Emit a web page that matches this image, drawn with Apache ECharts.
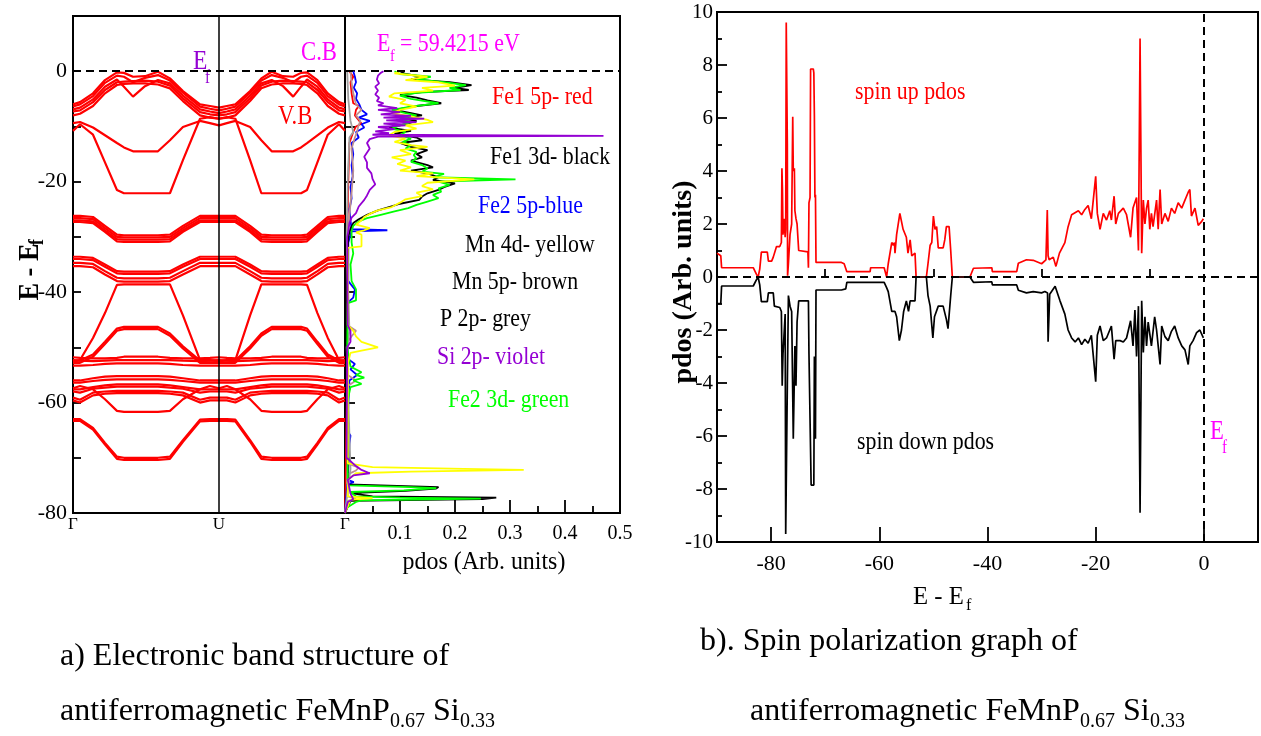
<!DOCTYPE html>
<html>
<head>
	<meta charset="utf-8" />
	<title>FeMnP0.67Si0.33 band structure / spin pdos</title>
	<script src="https://cdn.jsdelivr.net/npm/echarts@6/dist/echarts.min.js"></script>
	<style>
		html, body { margin: 0; padding: 0; background: #fff; }
		#main { width: 1261px; height: 736px; }
	</style>
</head>
<body>
<div id="main"></div>
<script type="text/javascript">
	/******************* band structure data ******************/
	// k path  Γ -> U  and back  U -> Γ  (drawn shorter)
	var kGU = [0, 0.048, 0.137, 0.219, 0.301, 0.349, 0.411, 0.493, 0.582, 0.664, 0.753, 0.870, 0.938, 1.0];
	var kUG = [1.0, 1.054, 1.112, 1.213, 1.290, 1.361, 1.438, 1.508, 1.562, 1.603, 1.674, 1.745, 1.822, 1.863];
	var kTicks = [0, 1, 1.863];
	var kNames = ['Γ', 'U', 'Γ'];

	// energies (E - Ef) at the k nodes of Γ -> U
	var bandsTop = [
		[-6.0, -5.6, -4.0, -1.6, -0.2, -0.3, -1.0, -0.9, -0.1, -1.3, -3.6, -6.0, -6.3, -6.6],
		[-6.4, -6.0, -4.5, -2.1, -0.8, -1.0, -2.0, -1.2, -0.7, -1.7, -3.9, -6.4, -6.8, -7.1],
		[-6.9, -6.6, -5.1, -2.8, -1.5, -2.8, -4.6, -2.7, -1.6, -2.2, -4.4, -6.9, -7.3, -7.6],
		[-7.3, -7.1, -5.6, -3.4, -2.0, -1.9, -1.8, -1.7, -1.9, -2.6, -4.9, -7.4, -7.8, -8.0],
		[-8.0, -7.7, -6.3, -4.0, -2.5, -2.3, -2.2, -2.2, -2.4, -3.1, -5.4, -8.0, -8.4, -8.6]
	];
	var bandsDip = [
		[-9.4, -9.2, -10.2, -11.6, -13.0, -13.8, -14.5, -14.5, -14.5, -12.5, -10.1, -9.0, -9.4, -9.8],
		[-10.8, -9.6, -11.5, -16.5, -21.5, -22.1, -22.1, -22.1, -22.1, -22.1, -16.1, -8.6, -8.3, -8.6]
	];
	var bandsC = [
		[-26.2, -26.2, -26.4, -28.0, -29.6, -29.7, -29.7, -29.7, -29.7, -29.6, -28.0, -26.2, -26.2, -26.2],
		[-26.6, -26.6, -26.8, -28.4, -30.0, -30.1, -30.1, -30.1, -30.1, -30.0, -28.4, -26.6, -26.6, -26.6],
		[-27.0, -27.0, -27.2, -28.8, -30.4, -30.5, -30.5, -30.5, -30.5, -30.4, -28.8, -27.0, -27.0, -27.0],
		[-27.3, -27.3, -27.5, -29.1, -30.8, -30.9, -30.9, -30.9, -30.9, -30.8, -29.1, -27.3, -27.3, -27.3]
	];
	var bandsD = [
		[-33.6, -33.6, -33.8, -35.0, -36.2, -36.3, -36.3, -36.3, -36.3, -36.2, -35.0, -33.6, -33.6, -33.6],
		[-34.0, -34.0, -34.2, -35.4, -36.6, -36.7, -36.7, -36.7, -36.7, -36.6, -35.4, -34.0, -34.0, -34.0],
		[-34.7, -34.7, -34.9, -36.2, -37.4, -37.5, -37.5, -37.5, -37.5, -37.4, -36.2, -34.7, -34.7, -34.7],
		[-35.3, -35.3, -35.5, -36.8, -38.0, -38.1, -38.1, -38.1, -38.1, -38.0, -36.8, -35.3, -35.3, -35.3]
	];
	var bandsMid = [
		[-52.6, -52.3, -48.3, -43.8, -38.7, -38.6, -38.6, -38.6, -38.6, -38.6, -44.2, -52.3, -52.3, -52.6],
		[-52.4, -52.4, -51.3, -49.0, -46.6, -46.3, -46.3, -46.3, -46.3, -47.5, -49.8, -52.4, -52.4, -52.4],
		[-52.8, -52.8, -51.7, -49.4, -47.0, -46.7, -46.7, -46.7, -46.7, -47.9, -50.2, -52.8, -52.8, -52.8],
		[-51.8, -51.9, -52.0, -52.0, -51.9, -51.7, -51.7, -51.7, -51.7, -51.9, -52.0, -52.0, -51.9, -51.8],
		[-52.3, -52.4, -52.5, -52.4, -52.3, -52.3, -52.3, -52.3, -52.3, -52.3, -52.4, -52.5, -52.4, -52.3],
		[-53.3, -53.3, -53.2, -53.0, -52.9, -52.9, -52.9, -52.9, -52.9, -53.0, -53.2, -53.3, -53.3, -53.3]
	];
	var bandsLow = [
		[-56.0, -56.0, -55.6, -55.3, -55.2, -55.2, -55.2, -55.2, -55.2, -55.3, -55.6, -56.0, -56.0, -56.0],
		[-56.4, -56.4, -56.1, -55.9, -55.8, -55.8, -55.8, -55.8, -55.8, -55.9, -56.1, -56.4, -56.4, -56.4],
		[-57.6, -57.6, -57.2, -56.9, -56.7, -56.7, -56.7, -56.7, -56.7, -56.9, -57.2, -57.6, -57.6, -57.6],
		[-58.0, -58.2, -57.5, -57.3, -57.1, -57.1, -57.1, -57.1, -57.1, -57.3, -57.5, -58.2, -58.0, -58.0],
		[-59.1, -59.5, -58.2, -58.0, -57.9, -57.9, -57.9, -57.9, -57.9, -58.0, -58.2, -59.5, -59.1, -59.1],
		[-59.6, -60.0, -58.7, -58.4, -58.3, -58.3, -58.3, -58.3, -58.3, -58.4, -58.7, -60.0, -59.6, -59.6],
		[-57.4, -57.0, -57.6, -59.4, -61.5, -61.7, -61.7, -61.7, -61.7, -61.5, -59.4, -57.6, -57.0, -57.4],
		[-63.0, -63.0, -64.6, -67.3, -69.8, -70.0, -70.0, -70.0, -70.0, -69.8, -66.8, -63.1, -63.0, -63.0],
		[-63.3, -63.3, -64.9, -67.6, -70.2, -70.4, -70.4, -70.4, -70.4, -70.2, -67.1, -63.4, -63.3, -63.3]
	];

	/******************* pdos data  [E - Ef, pdos] ******************/
	var pdosFe15p = [[0, 0.008], [-1, 0.015], [-2, 0.01], [-4, 0.012], [-5.8, 0.015], [-6.3, 0.025], [-7, 0.02], [-8, 0.018], [-9.5, 0.03], [-10, 0.02], [-11, 0.015], [-13, 0.008], [-20, 0.006], [-30, 0.004], [-56, 0.004], [-80, 0]];
	var pdosFe25p = [[0, 0.015], [-1, 0.018], [-2, 0.02], [-3, 0.016], [-4, 0.022], [-5, 0.02], [-6, 0.026], [-7, 0.03], [-7.8, 0.04], [-8.4, 0.025], [-9, 0.045], [-9.6, 0.03], [-10.2, 0.035], [-11, 0.02], [-12, 0.025], [-13, 0.012], [-15, 0.015], [-17, 0.012], [-19, 0.014], [-21, 0.01], [-23, 0.012], [-25, 0.008], [-27, 0.01], [-28.6, 0.012], [-28.8, 0.077], [-29.0, 0.012], [-31, 0.006], [-38, 0.006], [-39.5, 0.018], [-41, 0.015], [-42, 0.004], [-52, 0.004], [-53, 0.018], [-54, 0.01], [-55, 0.022], [-56, 0.008], [-65, 0.004], [-66, 0.01], [-67.5, 0.008], [-74, 0.005], [-74.4, 0.016], [-74.8, 0.004], [-80, 0]];
	var pdosMn5p = [[0, 0.01], [-2, 0.012], [-4, 0.015], [-6, 0.02], [-7, 0.03], [-8, 0.02], [-9, 0.028], [-10, 0.024], [-11, 0.022], [-12, 0.018], [-14, 0.012], [-18, 0.015], [-22, 0.012], [-26, 0.008], [-30, 0.005], [-46, 0.005], [-47, 0.02], [-48, 0.012], [-49, 0.005], [-55, 0.005], [-56, 0.02], [-57, 0.005], [-71, 0.005], [-71.8, 0.025], [-72.3, 0.02], [-73, 0.005], [-77, 0.005], [-77.4, 0.02], [-77.8, 0.005], [-80, 0]];
	var pdosP2p = [[0, 0.004], [-5, 0.006], [-9, 0.01], [-11, 0.015], [-12, 0.008], [-20, 0.005], [-30, 0.003], [-47, 0.008], [-50, 0.003], [-72, 0.01], [-80, 0]];
	var pdosFe13d = [[0, 0.1], [-0.5, 0.11], [-1, 0.14], [-1.5, 0.12], [-2, 0.19], [-2.5, 0.23], [-3, 0.2], [-3.4, 0.225], [-3.8, 0.14], [-4.3, 0.1], [-4.8, 0.13], [-5.3, 0.15], [-5.8, 0.175], [-6.3, 0.13], [-7, 0.09], [-7.6, 0.12], [-8, 0.14], [-8.5, 0.1], [-9, 0.13], [-9.6, 0.11], [-10.2, 0.08], [-10.8, 0.12], [-11.3, 0.09], [-12, 0.13], [-12.5, 0.14], [-13, 0.1], [-13.7, 0.12], [-14.3, 0.15], [-15, 0.13], [-15.6, 0.14], [-16.2, 0.12], [-17, 0.15], [-17.4, 0.16], [-18, 0.12], [-18.5, 0.15], [-19.2, 0.17], [-19.7, 0.16], [-20.3, 0.2], [-21, 0.18], [-21.5, 0.17], [-22.1, 0.15], [-22.7, 0.14], [-23.3, 0.135], [-24, 0.1], [-24.6, 0.08], [-25.2, 0.06], [-26, 0.04], [-26.8, 0.025], [-27.5, 0.015], [-28.5, 0.01], [-30, 0.006], [-40, 0.003], [-74.8, 0.005], [-75.3, 0.17], [-75.6, 0.165], [-76, 0.11], [-76.4, 0.01], [-77, 0.05], [-77.2, 0.275], [-77.5, 0.25], [-77.8, 0.01], [-80, 0]];
	var pdosFe23d = [[0, 0.09], [-0.5, 0.1], [-1, 0.156], [-1.5, 0.13], [-2, 0.18], [-2.5, 0.22], [-3, 0.19], [-3.4, 0.21], [-3.9, 0.13], [-4.4, 0.1], [-5, 0.12], [-5.4, 0.145], [-5.8, 0.17], [-6.4, 0.12], [-7, 0.085], [-7.6, 0.11], [-8, 0.13], [-8.6, 0.1], [-9.2, 0.12], [-9.8, 0.1], [-10.4, 0.085], [-11, 0.11], [-11.6, 0.1], [-12.2, 0.12], [-12.8, 0.105], [-13.4, 0.12], [-14, 0.11], [-14.6, 0.13], [-15.2, 0.125], [-15.8, 0.13], [-16.4, 0.12], [-17, 0.14], [-17.6, 0.15], [-18.2, 0.14], [-18.6, 0.18], [-19.2, 0.16], [-19.6, 0.31], [-20, 0.17], [-20.6, 0.19], [-21.2, 0.17], [-21.8, 0.175], [-22.4, 0.16], [-23, 0.17], [-23.6, 0.15], [-24.2, 0.13], [-24.8, 0.115], [-25.4, 0.09], [-26, 0.065], [-26.6, 0.04], [-27.2, 0.025], [-28, 0.015], [-29, 0.012], [-31, 0.012], [-33, 0.015], [-35, 0.01], [-38, 0.012], [-39.5, 0.02], [-41.5, 0.02], [-42, 0.005], [-50, 0.004], [-53.5, 0.01], [-54.5, 0.03], [-55, 0.02], [-55.5, 0.035], [-56, 0.015], [-56.6, 0.03], [-57.2, 0.01], [-60, 0.004], [-75, 0.005], [-75.3, 0.12], [-75.5, 0.166], [-75.9, 0.107], [-76.2, 0.01], [-77, 0.02], [-77.2, 0.1], [-77.4, 0.247], [-77.7, 0.03], [-78, 0.02], [-79, 0.004], [-80, 0]];
	var pdosMn4d = [[0, 0.1], [-0.4, 0.09], [-1, 0.15], [-1.6, 0.11], [-2, 0.17], [-2.6, 0.2], [-3, 0.14], [-3.5, 0.16], [-4, 0.09], [-4.6, 0.08], [-5.2, 0.11], [-5.8, 0.1], [-6.4, 0.13], [-7, 0.1], [-7.6, 0.085], [-8.2, 0.12], [-8.8, 0.15], [-9.2, 0.16], [-9.8, 0.11], [-10.4, 0.13], [-11, 0.09], [-11.6, 0.08], [-12.2, 0.11], [-12.8, 0.09], [-13.4, 0.12], [-13.7, 0.15], [-14.3, 0.1], [-15, 0.12], [-15.6, 0.085], [-16.2, 0.11], [-16.8, 0.095], [-17.4, 0.12], [-18, 0.1], [-18.5, 0.16], [-19, 0.13], [-19.6, 0.235], [-20.2, 0.15], [-20.8, 0.14], [-21.4, 0.16], [-22, 0.13], [-22.6, 0.14], [-23.2, 0.11], [-23.8, 0.1], [-24.6, 0.085], [-25.2, 0.06], [-25.7, 0.048], [-26.4, 0.035], [-27, 0.03], [-27.8, 0.02], [-28.4, 0.045], [-28.8, 0.035], [-29.2, 0.02], [-29.6, 0.03], [-31.7, 0.03], [-32, 0.005], [-46, 0.005], [-47, 0.015], [-48, 0.02], [-49, 0.03], [-50, 0.06], [-50.6, 0.03], [-51, 0.01], [-53, 0.005], [-71, 0.005], [-71.7, 0.05], [-72, 0.216], [-72.2, 0.325], [-72.5, 0.12], [-72.8, 0.02], [-74, 0.005], [-77, 0.005], [-77.3, 0.05], [-77.6, 0.01], [-80, 0]];
	var pdosSi2p = [[0, 0.07], [-0.3, 0.065], [-0.8, 0.06], [-1.5, 0.058], [-2.2, 0.062], [-2.8, 0.055], [-3.5, 0.06], [-4.2, 0.055], [-4.8, 0.062], [-5.4, 0.058], [-5.8, 0.07], [-6.2, 0.06], [-6.7, 0.095], [-7.0, 0.06], [-7.4, 0.1], [-7.8, 0.065], [-8.1, 0.12], [-8.4, 0.07], [-8.6, 0.144], [-8.9, 0.075], [-9.2, 0.13], [-9.5, 0.07], [-9.8, 0.11], [-10.1, 0.06], [-10.5, 0.09], [-10.9, 0.055], [-11.2, 0.08], [-11.5, 0.05], [-11.7, 0.47], [-11.85, 0.06], [-12.3, 0.045], [-13, 0.04], [-14, 0.045], [-15.5, 0.035], [-16.5, 0.04], [-17.5, 0.04], [-18.5, 0.048], [-19.5, 0.05], [-20.5, 0.055], [-21.5, 0.045], [-22.5, 0.04], [-23.3, 0.035], [-24.5, 0.025], [-25.7, 0.02], [-26.5, 0.012], [-27.5, 0.008], [-29, 0.006], [-30, 0.004], [-46, 0.005], [-47, 0.01], [-49, 0.01], [-50, 0.004], [-70, 0.003], [-71.5, 0.02], [-72.2, 0.03], [-72.8, 0.045], [-73.2, 0.015], [-74, 0.005], [-76.5, 0.01], [-77.5, 0.015], [-78, 0.005], [-80, 0]];

	/******************* spin polarization data [E - Ef, pdos] ******************/
	var spinUp = [[-90, 0.9], [-89.3, 0.8], [-89.15, 0.35], [-83.3, 0.35], [-82.7, 0.1], [-82.4, 0], [-82.1, 0.3], [-81.8, 0.94], [-80.7, 0.94], [-80.5, 0.6], [-79.9, 0.6], [-79.6, 0.75], [-79, 1.15], [-78.4, 1.15], [-78.1, 1.3], [-78.0, 4.1], [-77.9, 3.3], [-77.8, 1.6], [-77.6, 2.2], [-77.4, 1.5], [-77.3, 1.8], [-77.2, 9.6], [-77.0, 5.0], [-76.95, 0.05], [-76.8, 0.5], [-76.5, 1.6], [-76.2, 2.0], [-76.0, 6.05], [-75.9, 4.0], [-75.7, 4.1], [-75.6, 2.5], [-75.4, 2.2], [-75.2, 2.0], [-74.9, 1.0], [-73.2, 0.95], [-73.1, 0.35], [-73.0, 2.8], [-72.8, 3.0], [-72.7, 7.85], [-72.2, 7.85], [-72.1, 7.7], [-72.0, 6.1], [-71.9, 3.0], [-71.8, 3.1], [-71.7, 0.55], [-67, 0.55], [-66.5, 0.5], [-66, 0.2], [-61.7, 0.2], [-61.6, 0.35], [-59.1, 0.35], [-58.65, 0], [-58.35, 0.5], [-57.7, 1.3], [-57.4, 1.2], [-57.2, 1.3], [-57.1, 0.9], [-56.8, 1.6], [-56.2, 2.4], [-55.9, 2.1], [-55.6, 1.8], [-55.0, 1.5], [-54.8, 1.5], [-54.7, 0.9], [-54.3, 1.4], [-54.0, 0.8], [-53.4, 0.9], [-53.2, 0], [-51.3, 0], [-51.0, 0.5], [-50.6, 1.2], [-50.3, 1.3], [-50.0, 2.3], [-49.7, 1.8], [-49.4, 1.9], [-49.1, 1.1], [-48.2, 1.1], [-47.9, 1.4], [-47.6, 1.9], [-47.1, 1.9], [-46.8, 1.0], [-46.5, 0], [-43.25, 0], [-42.6, 0.33], [-42.3, 0.35], [-39.2, 0.35], [-39.1, 0.2], [-34.6, 0.2], [-34.3, 0.52], [-32.8, 0.65], [-31.55, 0.63], [-30, 0.5], [-29.2, 0.65], [-28.95, 2.53], [-28.8, 0.8], [-28.6, 0.65], [-27.85, 0.75], [-27.35, 0.4], [-26.7, 0.9], [-25.7, 1.3], [-25.1, 1.9], [-24.45, 2.35], [-23.2, 2.5], [-22.6, 2.35], [-22.0, 2.55], [-21.4, 2.7], [-20.8, 2.2], [-20.0, 3.8], [-19.7, 2.4], [-19.2, 1.8], [-18.6, 2.4], [-18.0, 2.15], [-17.4, 2.5], [-17.1, 2.15], [-16.6, 3.05], [-16.3, 2.0], [-15.8, 2.4], [-14.9, 2.6], [-14.3, 2.35], [-13.55, 1.5], [-13.1, 2.6], [-12.45, 3.0], [-12.1, 1.0], [-11.8, 9.0], [-11.5, 0.9], [-11.2, 2.9], [-10.9, 2.0], [-10.6, 2.6], [-10.3, 2.9], [-10.0, 1.8], [-9.7, 2.4], [-9.4, 1.9], [-8.75, 2.9], [-8.45, 1.8], [-8.1, 3.3], [-7.8, 2.0], [-7.2, 2.4], [-6.6, 2.1], [-6.0, 2.6], [-5.4, 2.4], [-4.75, 2.8], [-4.1, 2.6], [-3.5, 2.9], [-2.9, 3.2], [-2.6, 3.3], [-2.3, 2.3], [-1.65, 2.6], [-1.05, 1.95], [-0.4, 2.1], [-0.1, 2.2]];
	var spinDown = [[-90, -1.0], [-89.3, -1.0], [-89.15, -0.34], [-83.3, -0.34], [-82.7, -0.1], [-82.4, 0], [-82.1, -0.3], [-81.8, -0.93], [-80.7, -0.93], [-80.5, -0.6], [-79.6, -0.6], [-79.4, -1.1], [-78.4, -1.15], [-78.1, -1.3], [-77.95, -4.1], [-77.8, -2.9], [-77.4, -1.4], [-77.3, -9.7], [-77.0, -4.1], [-76.8, -0.7], [-76.5, -1.1], [-76.2, -1.3], [-75.9, -6.1], [-75.6, -2.6], [-75.4, -4.1], [-75.2, -1.7], [-74.9, -0.9], [-73.1, -0.9], [-73.0, -2.9], [-72.6, -7.85], [-72.1, -7.85], [-72.0, -3.0], [-71.8, -6.1], [-71.7, -0.49], [-67, -0.49], [-66.2, -0.45], [-66, -0.2], [-59.1, -0.2], [-58.65, -0.4], [-58.35, -0.55], [-57.7, -1.3], [-57.1, -1.3], [-56.8, -1.5], [-56.3, -2.4], [-55.9, -2.0], [-55.5, -1.3], [-55.0, -0.9], [-54.6, -1.3], [-54.3, -0.9], [-53.4, -0.9], [-53.2, 0], [-51.3, 0], [-51.0, -0.7], [-50.6, -1.1], [-50.1, -2.3], [-49.8, -1.5], [-49.1, -1.1], [-48.2, -1.1], [-47.6, -1.6], [-47.3, -1.95], [-46.8, -0.7], [-46.5, 0], [-43.25, 0], [-42.6, -0.2], [-42.3, -0.18], [-39.2, -0.18], [-39.1, -0.3], [-34.6, -0.3], [-34.3, -0.5], [-32.8, -0.6], [-31.55, -0.55], [-30, -0.6], [-29.4, -0.55], [-28.9, -0.6], [-28.8, -2.44], [-28.5, -0.65], [-27.5, -0.35], [-27.2, -0.4], [-26.6, -0.9], [-25.7, -1.4], [-25.1, -2.0], [-24.45, -2.3], [-23.8, -2.45], [-23.2, -2.3], [-22.6, -2.55], [-22.0, -2.35], [-21.4, -2.5], [-20.8, -2.2], [-20.0, -3.95], [-19.7, -2.2], [-19.2, -1.85], [-18.6, -2.4], [-18.0, -2.3], [-17.1, -1.85], [-16.6, -3.1], [-16.3, -2.4], [-15.5, -2.4], [-14.9, -2.45], [-14.3, -2.3], [-13.55, -1.65], [-13.1, -2.6], [-12.75, -1.25], [-12.45, -3.0], [-12.1, -1.1], [-11.8, -8.9], [-11.5, -0.9], [-11.2, -2.85], [-10.9, -1.5], [-10.6, -2.6], [-10.3, -1.7], [-9.7, -2.6], [-9.1, -1.5], [-8.75, -2.0], [-8.1, -3.3], [-7.8, -1.85], [-7.2, -2.25], [-6.6, -2.4], [-6.0, -2.05], [-5.4, -1.85], [-4.75, -2.3], [-4.1, -2.6], [-3.5, -2.75], [-2.9, -3.3], [-2.6, -2.6], [-2.0, -2.4], [-1.35, -2.1], [-0.75, -2.0], [-0.1, -2.3]];

	/******************* tick values ******************/
	var bandYTicks = [-80, -60, -40, -20, 0];
	var pdosXLabels = [0.1, 0.2, 0.3, 0.4, 0.5];
	var spinXTicks = [-80, -60, -40, -20, 0];
	var spinXMinor = [-70, -50, -30, -10];

	var FONT = '"Liberation Serif", "Times New Roman", serif';

	/******************* series builders ******************/
	function bandSeries(profile) {
		var data = [];
		for (var i = 0; i < kGU.length; i++) data.push([kGU[i], profile[i]]);
		// coming back U -> Γ retraces the same energies
		for (var j = 0; j < kUG.length; j++) data.push([kUG[j], profile[profile.length - 1 - j]]);
		return {
			type: 'line', xAxisIndex: 0, yAxisIndex: 0, data: data,
			symbol: 'none', silent: true, z: 2,
			lineStyle: { color: '#ff0000', width: 2.2 }
		};
	}

	function pdosSeries(rows, color) {
		return {
			type: 'line', xAxisIndex: 1, yAxisIndex: 1,
			data: rows.map(function (r) { return [r[1], r[0]]; }),
			symbol: 'none', silent: true,
			lineStyle: { color: color, width: 1.8 }
		};
	}

	function spinSeries(rows, color) {
		return {
			type: 'line', xAxisIndex: 2, yAxisIndex: 2, data: rows,
			symbol: 'none', silent: true,
			lineStyle: { color: color, width: 1.7 }
		};
	}

	var dashed = { color: '#000', width: 2, type: [8, 5] };

	var series = [];
	[bandsTop, bandsDip, bandsC, bandsD, bandsMid, bandsLow].forEach(function (group) {
		group.forEach(function (b) { series.push(bandSeries(b)); });
	});
	// Ef line and the U line on the band panel
	series[0].markLine = {
		silent: true, symbol: ['none', 'none'], label: { show: false },
		data: [
			{ yAxis: 0, lineStyle: dashed },
			{ xAxis: kTicks[1], lineStyle: { color: '#000', width: 1.5, type: 'solid' } }
		]
	};

	var pd = [
		pdosSeries(pdosFe15p, '#ff0000'),
		pdosSeries(pdosFe25p, '#0000ff'),
		pdosSeries(pdosMn5p, '#bc8f8f'),
		pdosSeries(pdosP2p, '#a0a0a0'),
		pdosSeries(pdosFe13d, '#000000'),
		pdosSeries(pdosFe23d, '#00ff00'),
		pdosSeries(pdosMn4d, '#ffff00'),
		pdosSeries(pdosSi2p, '#9400d3')
	];
	pd[0].markLine = {
		silent: true, symbol: ['none', 'none'], label: { show: false },
		data: [{ yAxis: 0, lineStyle: dashed }]
	};
	series = series.concat(pd);

	var up = spinSeries(spinUp, '#ff0000');
	up.markLine = {
		silent: true, symbol: ['none', 'none'], label: { show: false },
		data: [{ yAxis: 0, lineStyle: dashed }, { xAxis: 0, lineStyle: dashed }]
	};
	series.push(up);
	series.push(spinSeries(spinDown, '#000000'));

	/******************* texts ******************/
	function txt(x, y, s, size, color, o) {
		o = o || {};
		var st = {
			text: s, fill: color,
			font: (o.bold ? 'bold ' : '') + size + 'px ' + FONT,
			align: o.align || 'left', verticalAlign: 'middle',
			textAlign: o.align || 'left', textVerticalAlign: 'middle'
		};
		return { type: 'text', x: x, y: y, scaleX: o.sx || 1, silent: true, style: st };
	}

	var SX = 0.84;
	var graphics = [
		// band panel annotations
		txt(193, 62, 'E', 28, '#9400d3', { sx: SX }),
		txt(205, 78, 'f', 18, '#9400d3', { sx: SX }),
		txt(301, 53, 'C.B', 27, '#ff00ff', { sx: SX }),
		txt(278, 117, 'V.B', 27, '#ff0000', { sx: SX }),
		// pdos panel annotations
		txt(377, 44, 'E', 26, '#ff00ff', { sx: SX }),
		txt(390, 57, 'f', 17, '#ff00ff', { sx: SX }),
		txt(400, 44, '= 59.4215 eV', 26, '#ff00ff', { sx: SX }),
		txt(492, 97, 'Fe1 5p- red', 26, '#ff0000', { sx: SX }),
		txt(490, 157, 'Fe1 3d- black', 26, '#000000', { sx: SX }),
		txt(478, 206, 'Fe2 5p-blue', 26, '#0000ff', { sx: SX }),
		txt(465, 245, 'Mn 4d- yellow', 26, '#000000', { sx: SX }),
		txt(452, 282, 'Mn 5p- brown', 26, '#000000', { sx: SX }),
		txt(440, 319, 'P 2p- grey', 26, '#000000', { sx: SX }),
		txt(437, 357, 'Si 2p- violet', 26, '#9400d3', { sx: SX }),
		txt(448, 400, 'Fe2 3d- green', 26, '#00ff00', { sx: SX }),
		txt(484, 562, 'pdos (Arb. units)', 26, '#000', { sx: 0.92, align: 'center' }),
		// left axis name, rotated
		{
			type: 'group', x: 30, y: 272, rotation: Math.PI / 2, silent: true,
			children: [
				txt(0, 0, 'E - E', 30, '#000', { bold: true, sx: 0.88, align: 'center' }),
				txt(27, 8, 'f', 20, '#000', { bold: true, sx: 0.88 })
			]
		},
		// spin panel
		txt(855, 92, 'spin up pdos', 26, '#ff0000', { sx: SX }),
		txt(857, 442, 'spin down pdos', 26, '#000000', { sx: SX }),
		txt(1210, 432, 'E', 27, '#ff00ff', { sx: SX }),
		txt(1222, 448, 'f', 18, '#ff00ff', { sx: SX }),
		txt(913, 597, 'E - E', 26, '#000', { sx: 0.95 }),
		txt(966, 606, 'f', 17, '#000', { sx: 0.95 }),
		{
			type: 'group', x: 684, y: 282, rotation: Math.PI / 2, silent: true,
			children: [
				txt(0, 0, 'pdos (Arb. units)', 28, '#000', { bold: true, align: 'center' })
			]
		},
		// captions
		txt(60, 657, 'a) Electronic band structure of', 32, '#000'),
		txt(60, 712, 'antiferromagnetic FeMnP', 32, '#000'),
		txt(390, 722, '0.67', 20, '#000'),
		txt(433, 712, 'Si', 32, '#000'),
		txt(460, 722, '0.33', 20, '#000'),
		txt(700, 642, 'b). Spin polarization graph of', 32, '#000'),
		txt(750, 712, 'antiferromagnetic FeMnP', 32, '#000'),
		txt(1080, 722, '0.67', 20, '#000'),
		txt(1123, 712, 'Si', 32, '#000'),
		txt(1150, 722, '0.33', 20, '#000')
	];

	/******************* axes ******************/
	var axisLineBlack = { show: true, onZero: false, lineStyle: { color: '#000', width: 2 } };
	var tickBlack = { color: '#000', width: 1.8 };
	var labelBase = { color: '#000', fontFamily: FONT };

	var option = {
		animation: false,
		backgroundColor: '#fff',
		textStyle: { fontFamily: FONT },
		grid: [
			{ left: 73, top: 16, width: 272, height: 497, show: true, borderColor: '#000', borderWidth: 2, outerBoundsMode: 'none', containLabel: false },
			{ left: 345, top: 16, width: 275, height: 497, show: true, borderColor: '#000', borderWidth: 2, outerBoundsMode: 'none', containLabel: false },
			{ left: 717, top: 12, width: 541, height: 530, show: true, borderColor: '#000', borderWidth: 2, outerBoundsMode: 'none', containLabel: false }
		],
		xAxis: [
			{
				type: 'value', gridIndex: 0, min: 0, max: kTicks[2], position: 'bottom',
				axisLine: axisLineBlack, splitLine: { show: false },
				axisTick: { show: false },
				axisLabel: Object.assign({}, labelBase, {
					fontSize: 17, margin: 3, customValues: kTicks,
					formatter: function (v) {
						var best = 0;
						for (var i = 1; i < kTicks.length; i++) if (Math.abs(kTicks[i] - v) < Math.abs(kTicks[best] - v)) best = i;
						return kNames[best];
					}
				})
			},
			{
				type: 'value', gridIndex: 1, min: 0, max: 0.5, interval: 0.1, position: 'bottom',
				axisLine: axisLineBlack, splitLine: { show: false },
				axisTick: { show: true, inside: true, length: 13, lineStyle: tickBlack },
				minorTick: { show: true, splitNumber: 2, length: 7, lineStyle: tickBlack },
				axisLabel: Object.assign({}, labelBase, { fontSize: 20, margin: 11, customValues: pdosXLabels })
			},
			{
				type: 'value', gridIndex: 2, min: -90, max: 10, position: 'bottom',
				axisLine: axisLineBlack, splitLine: { show: false },
				axisTick: { show: true, inside: true, length: 15, lineStyle: tickBlack, customValues: spinXTicks },
				axisLabel: Object.assign({}, labelBase, { fontSize: 22, margin: 11, customValues: spinXTicks })
			},
			{
				type: 'value', gridIndex: 2, min: -90, max: 10, position: 'bottom',
				axisLine: { show: false }, splitLine: { show: false },
				axisTick: { show: true, inside: true, length: 8, lineStyle: tickBlack, customValues: spinXMinor },
				axisLabel: { show: false }
			}
		],
		yAxis: [
			{
				type: 'value', gridIndex: 0, min: -80, max: 10, interval: 10, position: 'left',
				axisLine: axisLineBlack, splitLine: { show: false },
				axisTick: { show: true, inside: true, length: 8, lineStyle: tickBlack },
				axisLabel: Object.assign({}, labelBase, { fontSize: 22, margin: 6, customValues: bandYTicks })
			},
			{
				type: 'value', gridIndex: 1, min: -80, max: 10, interval: 10, position: 'left',
				axisLine: axisLineBlack, splitLine: { show: false },
				axisTick: { show: true, inside: true, length: 10, lineStyle: tickBlack },
				axisLabel: { show: false }
			},
			{
				type: 'value', gridIndex: 2, min: -10, max: 10, interval: 2, position: 'left',
				axisLine: axisLineBlack, splitLine: { show: false },
				axisTick: { show: true, inside: true, length: 10, lineStyle: tickBlack },
				minorTick: { show: true, splitNumber: 2, length: 5, lineStyle: tickBlack },
				axisLabel: Object.assign({}, labelBase, { fontSize: 21, margin: 4 })
			}
		],
		graphic: graphics,
		series: series
	};

	var myChart = echarts.init(document.getElementById('main'), null, { renderer: 'canvas' });
	myChart.setOption(option);
	window.addEventListener('resize', myChart.resize);
</script>
</body>
</html>
